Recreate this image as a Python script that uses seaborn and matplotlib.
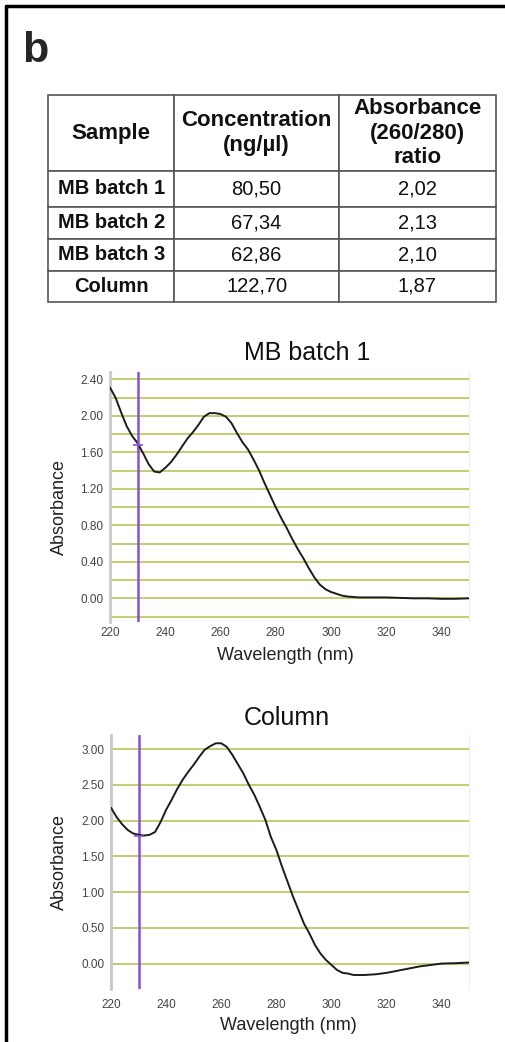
import numpy as np
import pandas as pd
import seaborn as sns
import matplotlib
matplotlib.use("Agg")
import matplotlib.pyplot as plt
from matplotlib.lines import Line2D
from matplotlib.ticker import MultipleLocator, FormatStrFormatter

# ---------------- data ----------------
table_samples = ["MB batch 1", "MB batch 2", "MB batch 3", "Column"]
table_conc = ["80,50", "67,34", "62,86", "122,70"]
table_ratio = ["2,02", "2,13", "2,10", "1,87"]
table_headers = ["Sample", "Concentration\n(ng/µl)", "Absorbance\n(260/280)\nratio"]

mb_wavelength = [220, 222, 224, 226, 228, 230, 232, 234, 236, 238, 240, 242, 244, 246,
                 248, 250, 252, 254, 256, 258, 260, 262, 264, 266, 268, 270, 272, 274,
                 276, 278, 280, 282, 284, 286, 288, 290, 292, 294, 296, 298, 300, 302,
                 304, 306, 310, 315, 320, 325, 330, 335, 340, 345, 350]
mb_absorbance = [2.31, 2.20, 2.04, 1.89, 1.78, 1.70, 1.59, 1.47, 1.39, 1.38, 1.43, 1.49,
                 1.57, 1.66, 1.75, 1.82, 1.90, 1.99, 2.03, 2.03, 2.02, 1.99, 1.92, 1.81,
                 1.71, 1.63, 1.52, 1.40, 1.26, 1.13, 1.00, 0.88, 0.77, 0.65, 0.54, 0.44,
                 0.33, 0.23, 0.15, 0.10, 0.07, 0.05, 0.03, 0.02, 0.01, 0.01, 0.01, 0.005,
                 0.0, 0.0, -0.005, -0.005, 0.0]

col_wavelength = [220, 222, 224, 226, 228, 230, 232, 234, 236, 238, 240, 242, 244, 246,
                  248, 250, 252, 254, 256, 258, 260, 262, 264, 266, 268, 270, 272, 274,
                  276, 278, 280, 282, 284, 286, 288, 290, 292, 294, 296, 298, 300, 302,
                  304, 306, 308, 310, 312, 316, 320, 324, 328, 332, 336, 340, 345, 350]
col_absorbance = [2.18, 2.05, 1.95, 1.87, 1.82, 1.80, 1.79, 1.80, 1.84, 1.98, 2.15, 2.29,
                  2.44, 2.57, 2.68, 2.78, 2.89, 2.99, 3.04, 3.08, 3.08, 3.03, 2.92, 2.79,
                  2.66, 2.50, 2.36, 2.19, 2.01, 1.77, 1.59, 1.36, 1.15, 0.94, 0.75, 0.56,
                  0.42, 0.26, 0.14, 0.05, -0.02, -0.09, -0.13, -0.14, -0.16, -0.16, -0.16,
                  -0.15, -0.13, -0.10, -0.07, -0.04, -0.02, 0.0, 0.005, 0.015]

cursor_wavelength = 230
mb_cursor_value = 1.68
col_cursor_value = 1.79

panel_titles = ["MB batch 1", "Column"]
x_ticks = [220, 240, 260, 280, 300, 320, 340]

# ---------------- style ----------------
sns.set_theme(style="white")
plt.rcParams["font.family"] = ["Liberation Sans", "DejaVu Sans"]

W, H = 506, 1042
fig = plt.figure(figsize=(W / 100, H / 100), dpi=100)

def fx(px):
    return px / W

def fy(py):
    return 1 - py / H

GRID = "#c3cd6e"
PURPLE = "#8a4fd4"
TICKC = "#444444"

# border and panel label
fig.add_artist(Line2D([fx(6), fx(6)], [0, fy(6)], transform=fig.transFigure, color="black", lw=2.5))
fig.add_artist(Line2D([fx(6), 1], [fy(6), fy(6)], transform=fig.transFigure, color="black", lw=2.5))
fig.text(fx(22), fy(62), "b", fontsize=31, fontweight="bold", ha="left", va="baseline")

# ---------------- table ----------------
tax = fig.add_axes([0, 0, 1, 1])
tax.axis("off")
cell_text = [[s, c, r] for s, c, r in zip(table_samples, table_conc, table_ratio)]
col_w = np.array([126, 164.7, 156.7])
tbl = tax.table(cellText=cell_text, colLabels=table_headers, cellLoc="center",
                colWidths=list(col_w / col_w.sum()),
                bbox=[fx(48.3), fy(302), fx(495.7) - fx(48.3), fy(95) - fy(302)])
tbl.auto_set_font_size(False)
tbl.set_fontsize(14.5)
row_h = [76, 35.7, 32.3, 32, 31]
for (r, c), cell in tbl.get_celld().items():
    cell.set_height(row_h[r] / 207.0)
    cell.set_edgecolor("#555555")
    cell.set_linewidth(1.2)
    txt = cell.get_text()
    if r == 0 or c == 0:
        txt.set_fontweight("bold")
    if r == 0:
        txt.set_fontsize(16)
        txt.set_linespacing(1.2)
    txt.set_color("#111111")

# ---------------- spectra ----------------
def style_axes(ax, ylim, major, minor, tick_pad_x):
    ax.set_xlim(220, 350)
    ax.set_ylim(*ylim)
    ax.set_xticks(x_ticks)
    ax.xaxis.set_minor_locator(MultipleLocator(10))
    ax.yaxis.set_major_locator(MultipleLocator(major))
    if minor:
        ax.yaxis.set_minor_locator(MultipleLocator(minor))
    ax.yaxis.set_major_formatter(FormatStrFormatter("%.2f"))
    ax.grid(axis="y", which="both", color=GRID, lw=1.4)
    ax.grid(axis="x", visible=False)
    ax.set_axisbelow(True)
    for s in ["top", "bottom"]:
        ax.spines[s].set_visible(False)
    ax.spines["left"].set_color("#c8c8c8")
    ax.spines["left"].set_linewidth(2)
    ax.spines["right"].set_color("#eeeeee")
    ax.spines["right"].set_linewidth(0.8)
    ax.tick_params(axis="y", which="both", length=0, pad=4.8, labelsize=8.5, labelcolor=TICKC)
    ax.tick_params(axis="x", which="both", length=2, color="#e4e4e4", pad=tick_pad_x,
                   labelsize=8.5, labelcolor=TICKC)
    ax.set_xlabel("")
    ax.set_ylabel("")

ax1 = fig.add_axes([fx(110), fy(621.7), fx(469) - fx(110), fy(371.7) - fy(621.7)])
sns.lineplot(x=mb_wavelength, y=mb_absorbance, ax=ax1, color="#1c1c1c", lw=1.4, zorder=3)
ax1.axvline(cursor_wavelength, color=PURPLE, lw=1.8, zorder=2)
ax1.plot([cursor_wavelength], [mb_cursor_value], marker="+", ms=7, mew=1.2, color=PURPLE, zorder=4)
style_axes(ax1, (-0.256, 2.484), 0.4, 0.2, 1.5)

ax2 = fig.add_axes([fx(111), fy(989.3), fx(469.3) - fx(111), fy(735) - fy(989.3)])
sns.lineplot(x=col_wavelength, y=col_absorbance, ax=ax2, color="#1c1c1c", lw=1.4, zorder=3)
ax2.axvline(cursor_wavelength, color=PURPLE, lw=1.8, zorder=2)
ax2.plot([cursor_wavelength], [col_cursor_value], marker="_", ms=7, mew=1.2, color=PURPLE, zorder=4)
style_axes(ax2, (-0.36, 3.196), 0.5, None, 5.0)

# titles and labels
fig.text(fx(306.7), fy(353.3), panel_titles[0], fontsize=18, ha="center", va="center", color="#111111")
fig.text(fx(286.7), fy(718.3), panel_titles[1], fontsize=18, ha="center", va="center", color="#111111")
fig.text(fx(285), fy(655), "Wavelength (nm)", fontsize=13, ha="center", va="center", color="#222222")
fig.text(fx(288.3), fy(1025), "Wavelength (nm)", fontsize=13, ha="center", va="center", color="#222222")
fig.text(fx(59), fy(506.7), "Absorbance", fontsize=13, rotation=90, ha="center", va="center", color="#222222")
fig.text(fx(59), fy(862.3), "Absorbance", fontsize=13, rotation=90, ha="center", va="center", color="#222222")

fig.savefig("out.png", dpi=100, facecolor="white")
